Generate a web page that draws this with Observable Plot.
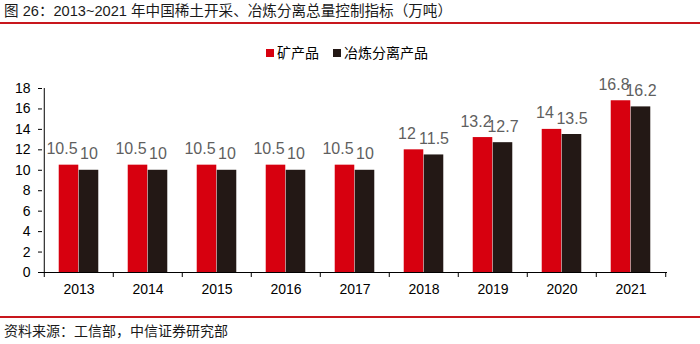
<!DOCTYPE html>
<html>
<head>
<meta charset="utf-8">
<script src="https://cdn.jsdelivr.net/npm/d3@7"></script>
<script src="https://cdn.jsdelivr.net/npm/@observablehq/plot@0.6"></script>
<style>
  html, body { margin: 0; padding: 0; background: #fff; }
  body { width: 700px; height: 344px; position: relative; overflow: hidden;
         font-family: "Liberation Sans", Arial, "Noto Sans CJK SC", sans-serif; color: #000; }
  #title { position: absolute; left: 4px; top: 2px; font-size: 14.6px; line-height: 19px; color: #1a1a1a; white-space: nowrap; }
  .redline { position: absolute; left: 0; width: 700px; height: 2px; background: #c8161d; }
  #legend { position: absolute; top: 44px; left: -3px; width: 700px; display: flex; justify-content: center; font-size: 14px; line-height: 18px; }
  .item { display: flex; align-items: center; margin: 0 7px; }
  .sw { width: 8px; height: 8px; margin-right: 3px; }
  #chart { position: absolute; left: 0; top: 70px; }
  #source { position: absolute; left: 4px; top: 322px; font-size: 14px; line-height: 18px; color: #1a1a1a; white-space: nowrap; }
</style>
</head>
<body>
<div id="title"></div>
<div class="redline" style="top:22px"></div>
<div id="legend"></div>
<div id="chart"></div>
<div class="redline" style="top:316px"></div>
<div id="source"></div>
<script>
const titleText = "图 26：2013~2021 年中国稀土开采、冶炼分离总量控制指标（万吨）";
const sourceText = "资料来源：工信部，中信证券研究部";
const years = ["2013", "2014", "2015", "2016", "2017", "2018", "2019", "2020", "2021"];
const seriesNames = ["矿产品", "冶炼分离产品"];
const oreValues = [10.5, 10.5, 10.5, 10.5, 10.5, 12, 13.2, 14, 16.8];
const smeltValues = [10, 10, 10, 10, 10, 11.5, 12.7, 13.5, 16.2];
const yTicks = [0, 2, 4, 6, 8, 10, 12, 14, 16, 18];
const colors = ["#d7000f", "#231815"];

document.getElementById("title").textContent = titleText;
document.getElementById("source").textContent = sourceText;
const legend = document.getElementById("legend");
seriesNames.forEach((name, i) => {
  const it = document.createElement("div");
  it.className = "item";
  const sw = document.createElement("div");
  sw.className = "sw";
  sw.style.background = colors[i];
  const t = document.createElement("span");
  t.textContent = name;
  it.appendChild(sw); it.appendChild(t);
  legend.appendChild(it);
});

const oreData = years.map((y, i) => ({year: y, value: oreValues[i]}));
const smeltData = years.map((y, i) => ({year: y, value: smeltValues[i]}));

const W = 700, mL = 42, mR = 33;
const bw = (W - mL - mR) / years.length;
const barW = 20;
const outer = bw / 2 - barW;
const labelStyle = {fill: "#5f5f5f", fontSize: 16, lineAnchor: "bottom", textAnchor: "middle"};

const chart = Plot.plot({
  width: W, height: 240,
  marginTop: 18, marginBottom: 38, marginLeft: mL, marginRight: mR,
  x: {domain: years, padding: 0, axis: null},
  y: {domain: [0, 18], axis: null},
  style: {fontFamily: "Liberation Sans, Arial, sans-serif", fontSize: "14px", color: "#000", background: "transparent"},
  marks: [
    Plot.barY(oreData, {x: "year", y: "value", fill: colors[0], insetLeft: outer, insetRight: bw / 2}),
    Plot.barY(smeltData, {x: "year", y: "value", fill: colors[1], insetLeft: bw / 2, insetRight: outer}),
    Plot.text(oreData, {x: "year", y: "value", text: d => String(d.value), dx: -barW / 2 - 7, dy: -11, ...labelStyle}),
    Plot.text(smeltData, {x: "year", y: "value", text: d => String(d.value), dx: barW / 2, dy: -11, ...labelStyle}),
    Plot.ruleY([0], {stroke: "#000", strokeWidth: 1}),
    Plot.ruleX([years[0]], {y1: 0, y2: 18, dx: -bw / 2, stroke: "#000"}),
    Plot.axisY({ticks: yTicks, tickSize: 4, tickPadding: 8, label: null, fontSize: 14}),
    Plot.axisX({tickSize: 0, tickPadding: 12, label: null, fontSize: 14}),
    Plot.axisX({tickSize: 5, tickFormat: () => "", dx: -bw / 2, label: null}),
    Plot.axisX({ticks: [years[years.length - 1]], tickSize: 5, tickFormat: () => "", dx: bw / 2, label: null})
  ]
});
document.getElementById("chart").appendChild(chart);
</script>
</body>
</html>
